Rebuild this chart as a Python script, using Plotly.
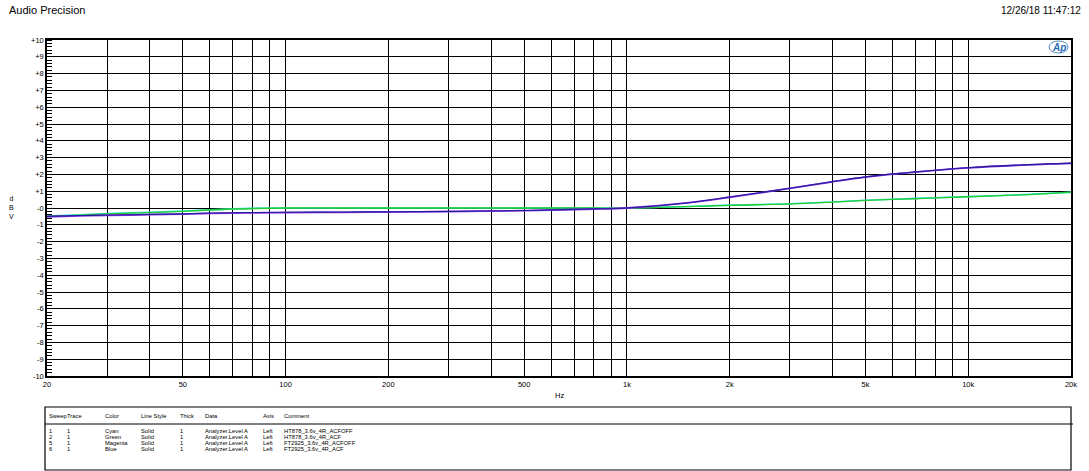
import plotly.graph_objects as go
import math

# ---------------- data ----------------
freqs = [20, 25, 30, 40, 50, 60, 70, 80, 100, 150, 200, 300, 500, 700, 800,
         1000, 1500, 2000, 3000, 4000, 5000, 6000, 7000, 8000, 10000, 15000, 20000]

cyan_ht878_acfoff = [-0.48, -0.40, -0.33, -0.25, -0.18, -0.11, -0.05, -0.02, 0.0, 0.0, 0.0, 0.0, 0.0, 0.0, 0.0,
                     0.0, 0.09, 0.17, 0.25, 0.36, 0.46, 0.52, 0.57, 0.61, 0.68, 0.81, 0.93]
green_ht878_acf = [-0.50, -0.42, -0.35, -0.27, -0.20, -0.12, -0.06, -0.03, 0.0, 0.0, 0.0, 0.0, 0.0, 0.0, 0.0,
                   0.0, 0.08, 0.16, 0.24, 0.35, 0.45, 0.51, 0.55, 0.60, 0.67, 0.80, 0.94]
magenta_ft2925_acfoff = [-0.52, -0.47, -0.44, -0.40, -0.37, -0.32, -0.30, -0.29, -0.27, -0.26, -0.24, -0.21, -0.16, -0.09, -0.06,
                         0.0, 0.30, 0.64, 1.17, 1.56, 1.84, 2.02, 2.14, 2.24, 2.39, 2.57, 2.66]
blue_ft2925_acf = [-0.50, -0.45, -0.42, -0.38, -0.35, -0.30, -0.28, -0.27, -0.25, -0.24, -0.22, -0.20, -0.15, -0.08, -0.05,
                   0.0, 0.30, 0.65, 1.18, 1.57, 1.85, 2.03, 2.15, 2.25, 2.40, 2.58, 2.67]

x_grid_vals = [20, 30, 40, 50, 60, 70, 80, 90, 100, 200, 300, 400, 500, 600, 700, 800, 900,
               1000, 2000, 3000, 4000, 5000, 6000, 7000, 8000, 9000, 10000, 20000]
x_labels = {20: "20", 50: "50", 100: "100", 200: "200", 500: "500", 1000: "1k",
            2000: "2k", 5000: "5k", 10000: "10k", 20000: "20k"}
y_vals = list(range(-10, 11))
y_labels = [("+%d" % v) if v > 0 else ("-0" if v == 0 else "%d" % v) for v in y_vals]

legend_header = ["Sweep", "Trace", "Color", "Line Style", "Thick", "Data", "Axis", "Comment"]
legend_rows = [
    ["1", "1", "Cyan", "Solid", "1", "Analyzer.Level A", "Left", "HT878_3.6v_4R_ACFOFF"],
    ["2", "1", "Green", "Solid", "1", "Analyzer.Level A", "Left", "HT878_3.6v_4R_ACF"],
    ["5", "1", "Magenta", "Solid", "1", "Analyzer.Level A", "Left", "FT2925_3.6v_4R_ACFOFF"],
    ["6", "1", "Blue", "Solid", "1", "Analyzer.Level A", "Left", "FT2925_3.6v_4R_ACF"],
]

# ---------------- layout geometry ----------------
W, H = 1089, 471
PL, PR, PT, PB = 47, 1074, 40, 376


def px(x):
    return (x - PL) / (PR - PL)


def py(y):
    return (PB - y) / (PB - PT)


FONT = "Arial, Liberation Sans, sans-serif"

fig = go.Figure()
series = [
    (cyan_ht878_acfoff, "#33dde0", 1.6),
    (green_ht878_acf, "#22cc33", 1.3),
    (magenta_ft2925_acfoff, "#8a2be2", 1.8),
    (blue_ft2925_acf, "#1f1f9a", 1.1),
]
for ys, col, w in series:
    fig.add_trace(go.Scatter(x=freqs, y=ys, mode="lines", line=dict(color=col, width=w),
                             line_shape="spline", showlegend=False, hoverinfo="skip"))

fig.update_xaxes(type="log", range=[math.log10(20), math.log10(20000)],
                 tickmode="array", tickvals=x_grid_vals,
                 ticktext=[x_labels.get(v, "") for v in x_grid_vals],
                 showgrid=True, gridcolor="black", gridwidth=1.2,
                 showline=True, linecolor="black", linewidth=1.5, mirror=True,
                 ticks="", tickfont=dict(family=FONT, size=7.5, color="black"),
                 zeroline=False)
fig.update_yaxes(range=[-10, 10], tickmode="array", tickvals=y_vals, ticktext=y_labels,
                 showgrid=True, gridcolor="black", gridwidth=1.2,
                 showline=True, linecolor="black", linewidth=1.5, mirror=True,
                 ticks="", tickfont=dict(family=FONT, size=7.5, color="black"),
                 zeroline=False,
                 minor=dict(tickmode="linear", tick0=0, dtick=0.2, ticks="inside",
                            ticklen=5, tickcolor="black", tickwidth=1, showgrid=False))

annotations = [
    dict(text="Audio Precision", x=px(7), y=py(10), xanchor="left", yanchor="middle",
         font=dict(family=FONT, size=11, color="black")),
    dict(text="12/26/18 11:47:12", x=px(1086), y=py(10), xanchor="right", yanchor="middle",
         font=dict(family=FONT, size=10, color="black")),
    dict(text="d<br>B<br>V", x=px(11), y=py(207), xanchor="center", yanchor="middle",
         font=dict(family=FONT, size=7, color="black"), align="center"),
    dict(text="Hz", x=px(561), y=py(395), xanchor="center", yanchor="middle",
         font=dict(family=FONT, size=7.5, color="black")),
    dict(text="<i><b>Ap</b></i>", x=px(1062), y=py(47), xanchor="center", yanchor="middle",
         font=dict(family=FONT, size=10, color="#2a6db5")),
]

col_x = [47, 65, 103, 139, 178, 203, 262, 283]
header_y = 416
row_ys = [431, 437, 443, 449]
for cx, txt in zip(col_x, legend_header):
    annotations.append(dict(text=txt, x=px(cx), y=py(header_y), xanchor="left", yanchor="middle",
                            font=dict(family=FONT, size=5.8, color="black")))
for ry, row in zip(row_ys, legend_rows):
    for cx, txt in zip(col_x, row):
        annotations.append(dict(text=txt, x=px(cx), y=py(ry), xanchor="left", yanchor="middle",
                                font=dict(family=FONT, size=5.8, color="black")))

for a in annotations:
    a.update(xref="paper", yref="paper", showarrow=False)

shapes = [
    dict(type="rect", xref="paper", yref="paper", x0=px(45), x1=px(1074), y0=py(407), y1=py(470),
         line=dict(color="black", width=1.2)),
    dict(type="line", xref="paper", yref="paper", x0=px(45), x1=px(1076), y0=py(424), y1=py(424),
         line=dict(color="black", width=1)),
    dict(type="circle", xref="paper", yref="paper", x0=px(1052), x1=px(1071), y0=py(41), y1=py(53),
         line=dict(color="#2a6db5", width=0.8)),
]

fig.update_layout(width=W, height=H, margin=dict(l=PL, r=W - PR, t=PT, b=H - PB),
                  paper_bgcolor="white", plot_bgcolor="white",
                  annotations=annotations, shapes=shapes, showlegend=False)

fig.write_html("out.html", config={"displayModeBar": False},
               post_script="document.body.style.margin='0';document.body.style.overflow='hidden';")
